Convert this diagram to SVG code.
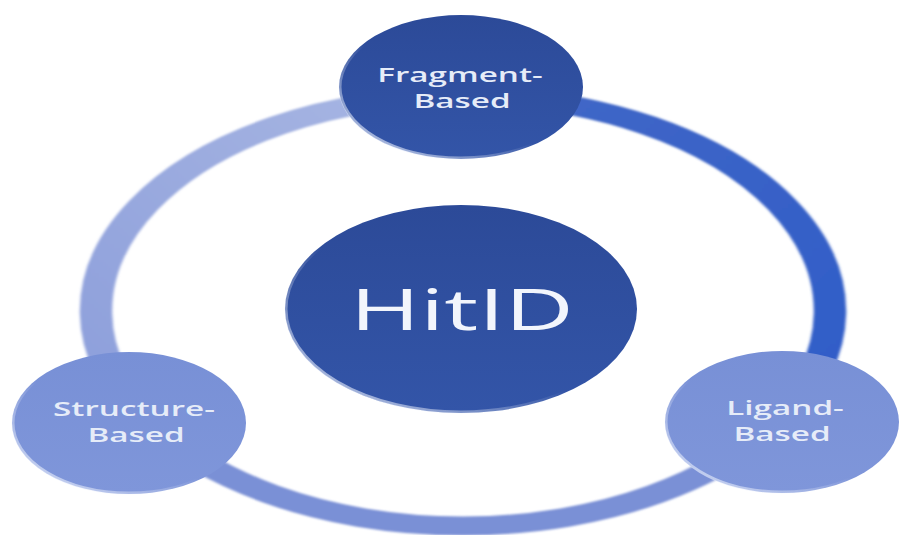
<svg xmlns="http://www.w3.org/2000/svg" width="901" height="535" viewBox="0 0 901 535">
  <defs>
    <style>
      .lbl { font-family: "Open Sans", "Noto Sans", "DejaVu Sans", sans-serif; font-weight: 600; font-size: 19px; text-anchor: middle; fill: #e6ecf8; }
      .big { font-family: "Open Sans", "Noto Sans", "DejaVu Sans", sans-serif; font-weight: 400; text-anchor: middle; fill: #f2f5fc; }
      .arc { fill: none; stroke-width: 19; stroke-linecap: butt; }
      .rim { fill: none; stroke: url(#rimGrad); stroke-width: 3; }
    </style>
    <linearGradient id="darkNode" x1="0" y1="0" x2="0" y2="1">
      <stop offset="0" stop-color="#2c4a98"/>
      <stop offset="1" stop-color="#3355a8"/>
    </linearGradient>
    <linearGradient id="lightNode" x1="0" y1="0" x2="0" y2="1">
      <stop offset="0" stop-color="#7890d6"/>
      <stop offset="1" stop-color="#7f96da"/>
    </linearGradient>
    <linearGradient id="rimGrad" x1="1" y1="0" x2="0" y2="1">
      <stop offset="0" stop-color="#ffffff" stop-opacity="0"/>
      <stop offset="0.55" stop-color="#ffffff" stop-opacity="0"/>
      <stop offset="1" stop-color="#dfe7fa" stop-opacity="0.9"/>
    </linearGradient>
    <linearGradient id="leftArc" x1="0" y1="1" x2="1" y2="0">
      <stop offset="0" stop-color="#8c9edb"/>
      <stop offset="1" stop-color="#a9b7e3"/>
    </linearGradient>
    <linearGradient id="rightArc" x1="0" y1="0" x2="1" y2="1">
      <stop offset="0" stop-color="#4268c6"/>
      <stop offset="1" stop-color="#2f5cc8"/>
    </linearGradient>
    <filter id="soft" x="-5%" y="-5%" width="110%" height="110%">
      <feGaussianBlur stdDeviation="0.8"/>
    </filter>
  </defs>

  <rect width="901" height="535" fill="#ffffff"/>

  <g id="connectors" transform="translate(463,311) scale(1.707,1)" filter="url(#soft)">
    <path class="arc" stroke="url(#leftArc)" d="M-184.3,110.7 A215,215 0 0 1 0,-215"/>
    <path class="arc" stroke="url(#rightArc)" d="M0,-215 A215,215 0 0 1 184.3,110.7"/>
    <path class="arc" stroke="#7a90d6" d="M184.3,110.7 A215,215 0 0 1 -184.3,110.7"/>
  </g>

  <g id="node-fragment">
    <ellipse cx="461" cy="87" rx="122" ry="72" fill="url(#darkNode)"/>
    <ellipse class="rim" cx="461" cy="87" rx="121" ry="71"/>
    <text class="lbl" transform="translate(460,82) scale(1.75,1)">Fragment-</text>
    <text class="lbl" transform="translate(462,108) scale(1.75,1)">Based</text>
  </g>

  <g id="node-hitid">
    <ellipse cx="461" cy="309" rx="176" ry="104" fill="url(#darkNode)"/>
    <ellipse class="rim" cx="461" cy="309" rx="175" ry="103"/>
    <text class="big" font-size="56" transform="translate(462,330) scale(1.7,1)">HitID</text>
  </g>

  <g id="node-structure">
    <ellipse cx="129" cy="423" rx="117" ry="71" fill="url(#lightNode)"/>
    <ellipse class="rim" cx="129" cy="423" rx="116" ry="70"/>
    <text class="lbl" transform="translate(134,416) scale(1.75,1)">Structure-</text>
    <text class="lbl" transform="translate(136,442) scale(1.75,1)">Based</text>
  </g>

  <g id="node-ligand">
    <ellipse cx="782" cy="422" rx="117" ry="71" fill="url(#lightNode)"/>
    <ellipse class="rim" cx="782" cy="422" rx="116" ry="70"/>
    <text class="lbl" transform="translate(785,415) scale(1.75,1)">Ligand-</text>
    <text class="lbl" transform="translate(782,441) scale(1.75,1)">Based</text>
  </g>
</svg>
